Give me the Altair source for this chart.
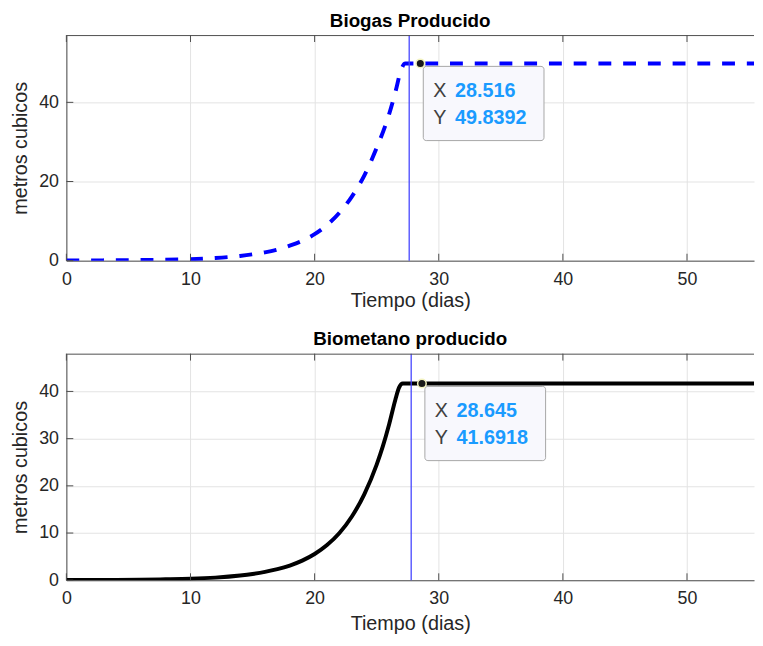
import altair as alt
import pandas as pd

# ---- data ----
t_gas = [0, 2, 4, 6, 8, 10, 12, 14, 15, 16, 17, 18, 19, 20, 21, 22, 23, 24, 25, 26, 26.5, 27.0, 27.3, 55.6]
v_gas = [0.03, 0.06, 0.1, 0.16, 0.24, 0.37, 0.66, 1.2, 1.6, 2.1, 2.8, 3.8, 5.0, 6.7, 9.0, 12.1, 16.2, 21.5, 28.5, 37.0, 42.5, 48.5, 49.84, 49.84]

t_met = [0, 2, 4, 6, 8, 10, 12, 14, 15, 16, 17, 18, 19, 20, 21, 22, 23, 24, 25, 25.5, 26, 26.5, 26.8, 27.1, 55.6]
v_met = [0.03, 0.05, 0.08, 0.13, 0.2, 0.31, 0.55, 1.0, 1.33, 1.77, 2.35, 3.12, 4.15, 5.55, 7.45, 10.0, 13.5, 18.2, 24.5, 28.4, 33.0, 38.2, 40.8, 41.69, 41.69]

x_ticks = [0, 10, 20, 30, 40, 50]
y_ticks_gas = [0, 20, 40]
y_ticks_met = [0, 10, 20, 30, 40]

tip_gas = {"x": 28.516, "y": 49.8392, "xs": "28.516", "ys": "49.8392"}
tip_met = {"x": 28.645, "y": 41.6918, "xs": "28.645", "ys": "41.6918"}

cursor_gas = 27.62
cursor_met = 27.78

titles = ["Biogas Producido", "Biometano producido"]
x_title = "Tiempo (dias)"
y_title = "metros cubicos"

X_MAX = 55.4
W = 695
FONT = "Liberation Sans"
AX = "#4d4d4d"
GRID = "#e3e3e3"
TIPBLUE = "#1a9bff"


def panel(t, v, title, ymax, yticks, line_style, tip, cursor, H, xtitle_pad):
    df = pd.DataFrame({"t": t, "v": v})
    xs = alt.Scale(domain=[0, X_MAX], nice=False, zero=False)
    ys = alt.Scale(domain=[0, ymax], nice=False)
    common = dict(grid=True, gridColor=GRID, domain=True, domainColor=AX, domainWidth=1, ticks=False,
                  labelFlush=False, labelFontSize=18, titleFontSize=20,
                  labelColor="#262626", titleColor="#262626", labelFont=FONT, titleFont=FONT,
                  titleFontWeight="normal")
    xax = alt.Axis(values=x_ticks, labelPadding=10, titlePadding=xtitle_pad, **common)
    yax = alt.Axis(values=yticks, labelPadding=8, titlePadding=8, **common)

    line = alt.Chart(df).mark_line(clip=True, interpolate="monotone", **line_style).encode(
        x=alt.X("t:Q", scale=xs, axis=xax, title=x_title),
        y=alt.Y("v:Q", scale=ys, axis=yax, title=y_title),
    )

    cur = alt.Chart(pd.DataFrame({"c": [cursor]})).mark_rule(color="#4646ff", strokeWidth=1.3).encode(
        x=alt.X("c:Q", scale=xs)
    )

    xt = pd.DataFrame({"t": x_ticks})
    yt = pd.DataFrame({"v": yticks})
    top_border = alt.Chart(xt.head(1)).mark_rule(color=AX, strokeWidth=1).encode(
        x=alt.value(0), x2=alt.value(W), y=alt.value(0.5))
    tick_b = alt.Chart(xt).mark_rule(color=AX, strokeWidth=1).encode(
        x=alt.X("t:Q", scale=xs), y=alt.value(H), y2=alt.value(H - 7))
    tick_t = alt.Chart(xt).mark_rule(color=AX, strokeWidth=1).encode(
        x=alt.X("t:Q", scale=xs), y=alt.value(0), y2=alt.value(7))
    tick_l = alt.Chart(yt).mark_rule(color=AX, strokeWidth=1).encode(
        y=alt.Y("v:Q", scale=ys), x=alt.value(0), x2=alt.value(7))

    tdf = pd.DataFrame([tip])
    box = alt.Chart(tdf).mark_rect(fill="#f8f8fd", stroke="#a6a6a6", strokeWidth=1, cornerRadius=3,
                                   xOffset=3, x2Offset=125, yOffset=3, y2Offset=78).encode(
        x=alt.X("x:Q", scale=xs), x2="x:Q", y=alt.Y("y:Q", scale=ys), y2="y:Q")
    dot = alt.Chart(tdf).mark_point(filled=True, fill="#1a1a1a", stroke="#f2f2c0", strokeWidth=1.5,
                                    size=75, opacity=1, shape="circle").encode(
        x=alt.X("x:Q", scale=xs), y=alt.Y("y:Q", scale=ys))
    tsty = dict(align="left", baseline="middle", fontSize=20, font=FONT)
    lx = alt.Chart(tdf).mark_text(dx=13, dy=28, color="#404040", text="X", **tsty).encode(
        x=alt.X("x:Q", scale=xs), y=alt.Y("y:Q", scale=ys))
    ly = alt.Chart(tdf).mark_text(dx=13, dy=55, color="#404040", text="Y", **tsty).encode(
        x=alt.X("x:Q", scale=xs), y=alt.Y("y:Q", scale=ys))
    vx = alt.Chart(tdf).mark_text(dx=35, dy=28, color=TIPBLUE, fontWeight="bold", **tsty).encode(
        x=alt.X("x:Q", scale=xs), y=alt.Y("y:Q", scale=ys), text="xs:N")
    vy = alt.Chart(tdf).mark_text(dx=35, dy=55, color=TIPBLUE, fontWeight="bold", **tsty).encode(
        x=alt.X("x:Q", scale=xs), y=alt.Y("y:Q", scale=ys), text="ys:N")

    return alt.layer(line, cur, top_border, tick_b, tick_t, tick_l, box, dot, lx, ly, vx, vy).properties(
        width=W, height=H,
        title=alt.TitleParams(title, fontSize=19, fontWeight="bold", font=FONT, color="#000000",
                              anchor="middle", offset=4),
    )


top = panel(t_gas, v_gas, titles[0], 57, y_ticks_gas,
            dict(color="#0000ff", strokeWidth=4, strokeDash=[13, 12]), tip_gas, cursor_gas, 228, 2)
bottom = panel(t_met, v_met, titles[1], 48, y_ticks_met,
               dict(color="#000000", strokeWidth=4), tip_met, cursor_met, 229, 6)

chart = alt.vconcat(top, bottom, spacing=20).properties(
    padding={"left": 2, "top": 0, "right": 0, "bottom": 0},
    background="white",
).configure_view(strokeWidth=0)

chart.save("out.html", embed_options={"renderer": "svg", "actions": False})
